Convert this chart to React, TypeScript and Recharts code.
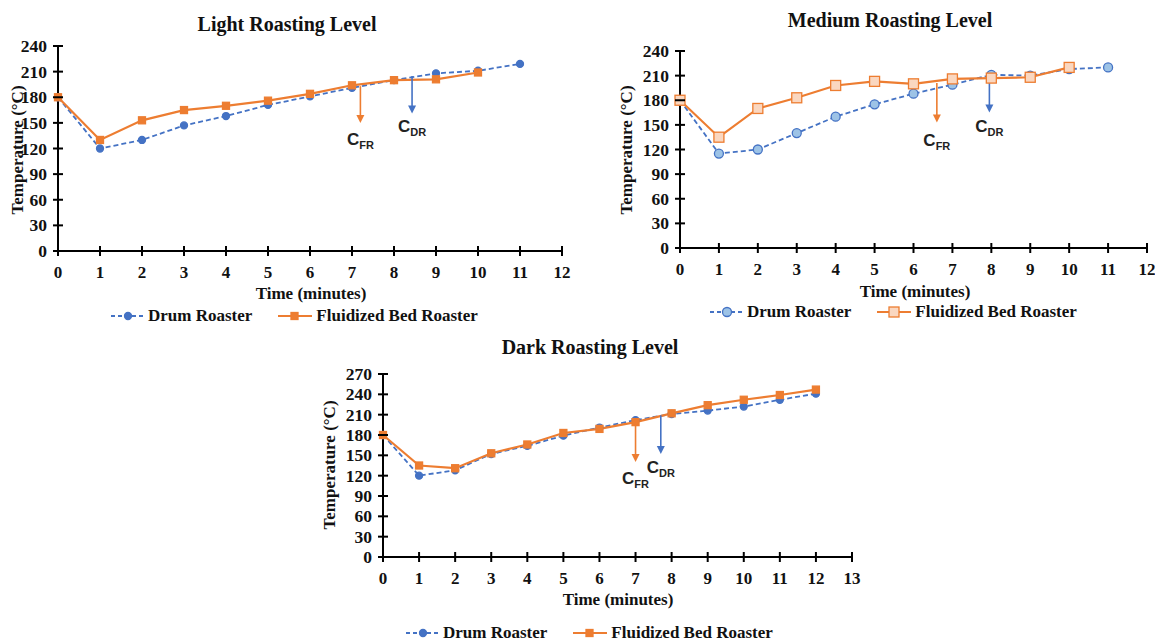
import React from 'react'
import { LineChart, Line, XAxis, YAxis, ReferenceLine } from 'recharts'

const BLUE = '#4472C4'
const ORANGE = '#ED7D31'
const SERIF = '"Liberation Serif", "Times New Roman", serif'
const NOTE_FONT = '"Liberation Sans Narrow", "Liberation Sans", Arial, sans-serif'

// light roasting level
const lightMinutes = [0, 1, 2, 3, 4, 5, 6, 7, 8, 9, 10, 11]
const lightDrum = [180, 120, 130, 147, 158, 171, 181, 191, 200, 208, 211, 219]
const lightFluid = [180, 130, 153, 165, 170, 176, 184, 194, 200, 201, 209]

// medium roasting level
const mediumMinutes = [0, 1, 2, 3, 4, 5, 6, 7, 8, 9, 10, 11]
const mediumDrum = [180, 115, 120, 140, 160, 175, 188, 199, 211, 210, 218, 220]
const mediumFluid = [180, 135, 170, 183, 198, 203, 200, 206, 207, 208, 220]

// dark roasting level
const darkMinutes = [0, 1, 2, 3, 4, 5, 6, 7, 8, 9, 10, 11, 12]
const darkDrum = [180, 120, 128, 152, 164, 179, 191, 202, 211, 216, 222, 232, 241]
const darkFluid = [180, 135, 131, 153, 166, 183, 189, 199, 212, 224, 232, 239, 247]

const minuteTicks12 = [0, 1, 2, 3, 4, 5, 6, 7, 8, 9, 10, 11, 12]
const minuteTicks13 = [0, 1, 2, 3, 4, 5, 6, 7, 8, 9, 10, 11, 12, 13]
const tempTicks240 = [0, 30, 60, 90, 120, 150, 180, 210, 240]
const tempTicks270 = [0, 30, 60, 90, 120, 150, 180, 210, 240, 270]

// C_FR / C_DR arrows: x in minutes, from/to in °C
type Note = { x: number; from: number; to: number; sub: string; color: string; dy: number }
const lightNotes: Note[] = [
  { x: 7.2, from: 193, to: 150, sub: 'FR', color: ORANGE, dy: 22 },
  { x: 8.43, from: 205, to: 161, sub: 'DR', color: BLUE, dy: 19 },
]
const mediumNotes: Note[] = [
  { x: 6.6, from: 201, to: 153, sub: 'FR', color: ORANGE, dy: 24 },
  { x: 7.95, from: 211, to: 165, sub: 'DR', color: BLUE, dy: 19 },
]
const darkNotes: Note[] = [
  { x: 7.0, from: 200, to: 140, sub: 'FR', color: ORANGE, dy: 22 },
  { x: 7.7, from: 209, to: 152, sub: 'DR', color: BLUE, dy: 19 },
]

const XTick = (p: any) => (
  <g>
    <line x1={p.x} x2={p.x} y1={p.y - 5} y2={p.y + 5} stroke="#000" strokeWidth={2} />
    <text x={p.x} y={p.y + 27} textAnchor="middle" fontFamily={SERIF} fontWeight={700} fontSize={17} fill="#111">
      {p.payload.value}
    </text>
  </g>
)

const YTick = (p: any) => (
  <g>
    <line x1={p.x - 5} x2={p.x + 5} y1={p.y} y2={p.y} stroke="#000" strokeWidth={2} />
    <text x={p.x - 11} y={p.y + 6} textAnchor="end" fontFamily={SERIF} fontWeight={700} fontSize={17.5} fill="#111">
      {p.payload.value}
    </text>
  </g>
)

const circleDot = (r: number, fill: string) => (p: any) => {
  if (p.cx == null || p.cy == null || p.value == null) return <g key={`c-${p.index}`} />
  return <circle key={`c-${p.index}`} cx={p.cx} cy={p.cy} r={r} fill={fill} stroke={BLUE} strokeWidth={1.3} />
}

const squareDot = (s: number, fill: string) => (p: any) => {
  if (p.cx == null || p.cy == null || p.value == null) return <g key={`s-${p.index}`} />
  return (
    <rect key={`s-${p.index}`} x={p.cx - s / 2} y={p.cy - s / 2} width={s} height={s} fill={fill} stroke={ORANGE} strokeWidth={1.3} />
  )
}

const arrowShape = (note: Note) => (p: any) => {
  const { x1, y1, x2, y2 } = p
  return (
    <g>
      <line x1={x1} y1={y1} x2={x2} y2={y2 - 6} stroke={note.color} strokeWidth={1.6} />
      <polygon points={`${x2 - 4},${y2 - 8} ${x2 + 4},${y2 - 8} ${x2},${y2}`} fill={note.color} />
      <text x={x2} y={y2 + note.dy} textAnchor="middle" fontFamily={NOTE_FONT} fontWeight={700} fontSize={17} fill="#222">
        C
        <tspan fontSize={11} dy={4}>
          {note.sub}
        </tspan>
      </text>
    </g>
  )
}

type PanelProps = {
  title: string
  minutes: number[]
  drum: number[]
  fluid: number[]
  notes: Note[]
  xTicks: number[]
  yTicks: number[]
  hollow?: boolean
  left: number
  top: number
  width: number
  height: number
  yAxisWidth: number
  margin: { top: number; right: number; bottom: number; left: number }
  titlePos: [number, number]
  xTitlePos: [number, number]
  yTitlePos: [number, number]
  legendPos: [number, number]
}

const LegendSample = ({ dashed, square, hollow }: { dashed?: boolean; square?: boolean; hollow?: boolean }) => {
  const color = square ? ORANGE : BLUE
  return (
    <svg width={34} height={14} style={{ display: 'block' }}>
      <line x1={0} x2={34} y1={7} y2={7} stroke={color} strokeWidth={2} strokeDasharray={dashed ? '4 3' : undefined} />
      {square ? (
        <rect x={hollow ? 12 : 13} y={hollow ? 2 : 3.5} width={hollow ? 10 : 7} height={hollow ? 10 : 7} fill={hollow ? '#FAD7C0' : ORANGE} stroke={ORANGE} strokeWidth={1.3} />
      ) : (
        <circle cx={17} cy={7} r={hollow ? 4.5 : 3.5} fill={hollow ? '#9DC3E6' : BLUE} stroke={BLUE} strokeWidth={1.3} />
      )}
    </svg>
  )
}

const RoastPanel = (props: PanelProps) => {
  const rows = props.minutes.map((t, i) => ({
    t,
    drum: props.drum[i],
    fluid: i < props.fluid.length ? props.fluid[i] : null,
  }))
  const yMax = props.yTicks[props.yTicks.length - 1]
  const xMax = props.xTicks[props.xTicks.length - 1]
  const textStyle: React.CSSProperties = {
    position: 'absolute',
    fontFamily: SERIF,
    fontWeight: 700,
    color: '#111',
    whiteSpace: 'nowrap',
  }
  return (
    <>
      <div style={{ ...textStyle, left: props.titlePos[0], top: props.titlePos[1], fontSize: 20, transform: 'translate(-50%, -50%)' }}>
        {props.title}
      </div>
      <div style={{ position: 'absolute', left: props.left, top: props.top }}>
        <LineChart width={props.width} height={props.height} data={rows} margin={props.margin}>
          <XAxis
            dataKey="t"
            type="number"
            domain={[0, xMax]}
            ticks={props.xTicks}
            interval={0}
            height={30}
            tickSize={0}
            tickMargin={0}
            tickLine={false}
            tick={<XTick />}
            axisLine={{ stroke: '#000', strokeWidth: 2 }}
          />
          <YAxis
            type="number"
            domain={[0, yMax]}
            ticks={props.yTicks}
            interval={0}
            width={props.yAxisWidth}
            tickSize={0}
            tickMargin={0}
            tickLine={false}
            tick={<YTick />}
            axisLine={{ stroke: '#000', strokeWidth: 2 }}
          />
          <Line
            dataKey="drum"
            stroke={BLUE}
            strokeWidth={1.8}
            strokeDasharray="5 3"
            dot={circleDot(props.hollow ? 4.5 : 3.5, props.hollow ? '#9DC3E6' : BLUE)}
            isAnimationActive={false}
          />
          <Line
            dataKey="fluid"
            stroke={ORANGE}
            strokeWidth={2.2}
            dot={squareDot(props.hollow ? 10 : 7, props.hollow ? '#FAD7C0' : ORANGE)}
            isAnimationActive={false}
          />
          {props.notes.map((n) => (
            <ReferenceLine
              key={n.sub}
              segment={[
                { x: n.x, y: n.from },
                { x: n.x, y: n.to },
              ]}
              shape={arrowShape(n)}
            />
          ))}
        </LineChart>
      </div>
      <div style={{ ...textStyle, left: props.xTitlePos[0], top: props.xTitlePos[1], fontSize: 17, transform: 'translate(-50%, -50%)' }}>
        Time (minutes)
      </div>
      <div
        style={{
          ...textStyle,
          left: props.yTitlePos[0],
          top: props.yTitlePos[1],
          fontSize: 17,
          transform: 'translate(-50%, -50%) rotate(-90deg)',
        }}
      >
        Temperature (°C)
      </div>
      <div
        style={{
          ...textStyle,
          left: props.legendPos[0],
          top: props.legendPos[1],
          fontSize: 17,
          display: 'flex',
          alignItems: 'center',
          transform: 'translateY(-50%)',
        }}
      >
        <LegendSample dashed hollow={props.hollow} />
        <span style={{ marginLeft: 3, marginRight: 26 }}>Drum Roaster</span>
        <LegendSample square hollow={props.hollow} />
        <span style={{ marginLeft: 4 }}>Fluidized Bed Roaster</span>
      </div>
    </>
  )
}

export default function App() {
  return (
    <div style={{ position: 'fixed', left: 0, top: 0, width: 1155, height: 644, background: '#fff', overflow: 'hidden' }}>
      <RoastPanel
        title="Light Roasting Level"
        minutes={lightMinutes}
        drum={lightDrum}
        fluid={lightFluid}
        notes={lightNotes}
        xTicks={minuteTicks12}
        yTicks={tempTicks240}
        left={0}
        top={0}
        width={580}
        height={291}
        yAxisWidth={58}
        margin={{ top: 46, right: 18, bottom: 10, left: 0 }}
        titlePos={[287, 24]}
        xTitlePos={[311, 294]}
        yTitlePos={[18, 150]}
        legendPos={[111, 316]}
      />
      <RoastPanel
        title="Medium Roasting Level"
        minutes={mediumMinutes}
        drum={mediumDrum}
        fluid={mediumFluid}
        notes={mediumNotes}
        xTicks={minuteTicks12}
        yTicks={tempTicks240}
        hollow
        left={600}
        top={0}
        width={555}
        height={288}
        yAxisWidth={80}
        margin={{ top: 51, right: 8, bottom: 10, left: 0 }}
        titlePos={[890, 20]}
        xTitlePos={[915, 292]}
        yTitlePos={[627, 150]}
        legendPos={[710, 312]}
      />
      <RoastPanel
        title="Dark Roasting Level"
        minutes={darkMinutes}
        drum={darkDrum}
        fluid={darkFluid}
        notes={darkNotes}
        xTicks={minuteTicks13}
        yTicks={tempTicks270}
        left={300}
        top={330}
        width={567}
        height={267}
        yAxisWidth={83}
        margin={{ top: 44, right: 15, bottom: 10, left: 0 }}
        titlePos={[590, 347]}
        xTitlePos={[618, 600]}
        yTitlePos={[330, 465]}
        legendPos={[406, 633]}
      />
    </div>
  )
}
